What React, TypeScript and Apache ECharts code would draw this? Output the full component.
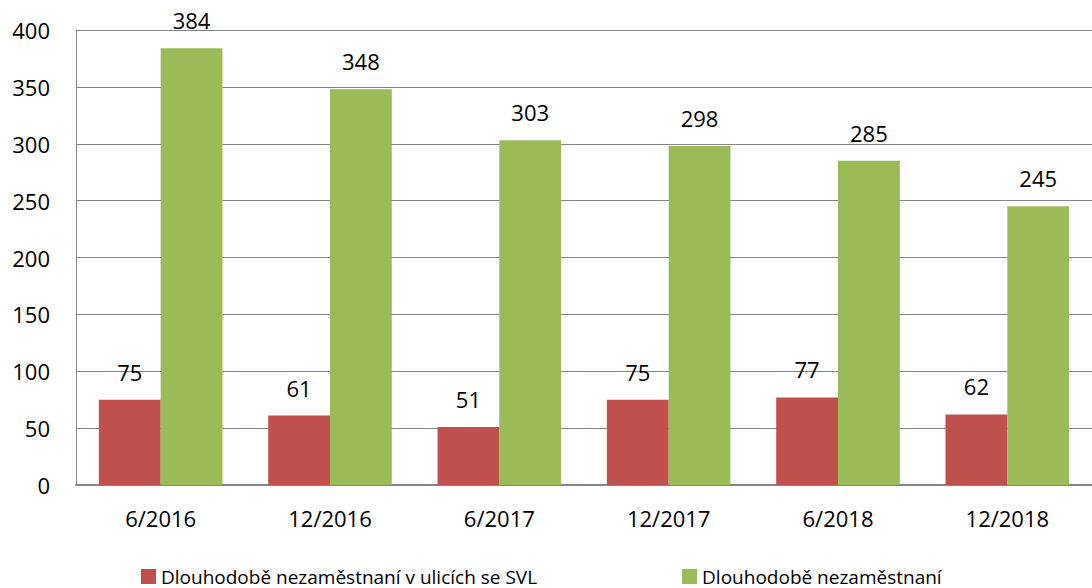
import React, { useEffect, useRef } from "react";
import * as echarts from "echarts";

const categories = ["6/2016", "12/2016", "6/2017", "12/2017", "6/2018", "12/2018"];
const svlValues = [75, 61, 51, 75, 77, 62];
const totalValues = [384, 348, 303, 298, 285, 245];
const seriesNames = ["Dlouhodobě nezaměstnaní v ulicích se SVL", "Dlouhodobě nezaměstnaní"];

const FONT = "'Open Sans', 'Liberation Sans', sans-serif";

export default function App() {
  const ref = useRef<HTMLDivElement>(null);
  useEffect(() => {
    if (!ref.current) return;
    const chart = echarts.init(ref.current, undefined, { renderer: "svg" });
    const labelStyle = {
      show: true,
      position: "top" as const,
      distance: 17,
      color: "#000",
      fontSize: 22,
      fontFamily: FONT,
    };
    chart.setOption({
      animation: false,
      backgroundColor: "#fff",
      textStyle: { fontFamily: FONT },
      grid: { left: 76, right: 0, top: 30, bottom: 103, containLabel: false },
      legend: {
        top: 562,
        left: 136,
        itemWidth: 15,
        itemHeight: 15,
        itemGap: 145,
        icon: "rect",
        textStyle: { fontSize: 19, color: "#000", fontFamily: FONT },
        data: seriesNames,
      },
      xAxis: {
        type: "category",
        data: categories,
        axisLine: { lineStyle: { color: "#868686", width: 2 } },
        axisTick: { show: false },
        axisLabel: { color: "#000", fontSize: 22, margin: 22, fontFamily: FONT },
      },
      yAxis: {
        type: "value",
        min: 0,
        max: 400,
        interval: 50,
        axisLine: { show: true, lineStyle: { color: "#868686", width: 1 } },
        axisTick: { show: false },
        axisLabel: { color: "#000", fontSize: 22, margin: 26, fontFamily: FONT },
        splitLine: { lineStyle: { color: "#868686", width: 1 } },
      },
      series: [
        {
          name: seriesNames[0],
          type: "bar",
          data: svlValues,
          barGap: "0%",
          barCategoryGap: "27%",
          itemStyle: { color: "#C0504D" },
          label: labelStyle,
        },
        {
          name: seriesNames[1],
          type: "bar",
          data: totalValues,
          barGap: "0%",
          barCategoryGap: "27%",
          itemStyle: { color: "#9BBB59" },
          label: labelStyle,
        },
      ],
    });
    return () => chart.dispose();
  }, []);
  return (
    <div
      ref={ref}
      style={{ position: "fixed", left: 0, top: 0, width: 1092, height: 588 }}
    />
  );
}
